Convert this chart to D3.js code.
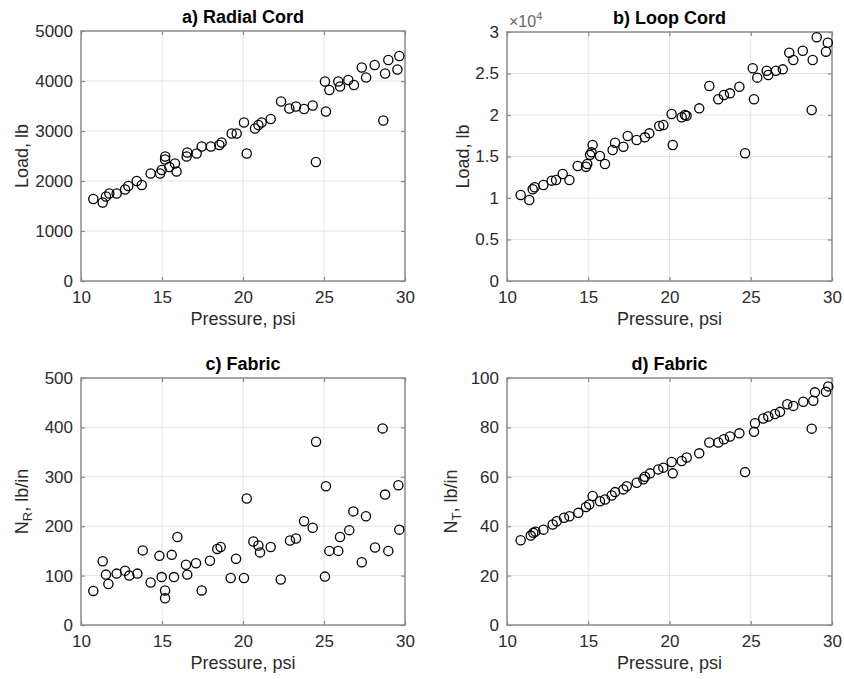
<!DOCTYPE html>
<html>
<head>
<meta charset="utf-8">
<script src="https://cdn.jsdelivr.net/npm/d3@7"></script>
<style>
  html, body { margin: 0; padding: 0; background: #fff; }
  svg { display: block; font-family: "Liberation Sans", Arial, Helvetica, sans-serif; }
</style>
</head>
<body>
<svg id="chart" width="844" height="679"></svg>
<script>
// ---------- data ----------
const xTicks = [10, 15, 20, 25, 30];

const radialPressure = [10.76, 11.34, 11.54, 11.75, 12.2, 12.72, 12.92, 13.44, 13.75, 14.3, 14.88, 14.98,
  15.19, 15.2, 15.45, 15.8, 15.9, 16.52, 16.56, 17.14, 17.45, 18.02, 18.54, 18.68, 19.3, 19.61, 20.06,
  20.23, 20.74, 20.95, 21.15, 21.71, 22.35, 22.86, 23.27, 23.77, 24.3, 24.5, 25.06, 25.12, 25.33, 25.88,
  25.99, 26.5, 26.85, 27.33, 27.6, 28.13, 28.66, 28.77, 28.97, 29.53, 29.65];
const radialLoad = [1640, 1570, 1690, 1750, 1750, 1830, 1900, 2000, 1920, 2150, 2150, 2220,
  2430, 2490, 2280, 2350, 2190, 2490, 2570, 2550, 2690, 2690, 2720, 2770, 2950, 2950, 3170,
  2550, 3050, 3120, 3170, 3240, 3590, 3450, 3490, 3440, 3510, 2380, 3990, 3390, 3820, 3990,
  3890, 4020, 3920, 4270, 4070, 4320, 3210, 4150, 4420, 4230, 4500];
const radialTicks = [0, 1000, 2000, 3000, 4000, 5000];

const loopPressure = [10.84, 11.37, 11.58, 11.7, 12.24, 12.75, 13.02, 13.43, 13.84, 14.35, 14.86, 14.94,
  15.11, 15.2, 15.27, 15.72, 16.03, 16.5, 16.65, 17.16, 17.43, 17.98, 18.49, 18.76, 19.37, 19.62, 20.13,
  20.2, 20.75, 20.95, 21.05, 21.83, 22.45, 23.0, 23.35, 23.72, 24.3, 24.65, 25.12, 25.2, 25.4, 25.98,
  26.08, 26.55, 26.97, 27.37, 27.62, 28.2, 28.75, 28.81, 29.06, 29.63, 29.74];
const loopLoad = [10360, 9760, 11050, 11300, 11570, 12090, 12170, 12890, 12170, 13860, 13770, 14100,
  15200, 15500, 16400, 15060, 14100, 15780, 16660, 16180, 17470, 16990, 17310, 17790, 18670, 18800, 20120,
  16390, 19720, 20000, 19900, 20800, 23490, 21890, 22410, 22610, 23410, 15390, 25630, 21890, 24500, 25340,
  24820, 25340, 25500, 27510, 26630, 27750, 20600, 26630, 29360, 27630, 28710];
const loopTicks = [0, 5000, 10000, 15000, 20000, 25000, 30000];
const loopTickLabels = ["0", "0.5", "1", "1.5", "2", "2.5", "3"];

const fabricRPressure = [10.76, 11.34, 11.54, 11.69, 12.2, 12.72, 12.98, 13.48, 13.81, 14.3, 14.84, 14.98,
  15.19, 15.19, 15.6, 15.74, 15.95, 16.48, 16.56, 17.1, 17.45, 17.96, 18.41, 18.62, 19.24, 19.57, 20.06,
  20.23, 20.64, 20.95, 21.05, 21.71, 22.33, 22.9, 23.27, 23.77, 24.3, 24.51, 25.06, 25.12, 25.33, 25.88,
  25.99, 26.56, 26.81, 27.33, 27.59, 28.15, 28.62, 28.77, 28.97, 29.59, 29.65];
const fabricNR = [69, 129, 102, 83, 104, 110, 100, 104, 151, 86, 140, 97,
  70, 54, 142, 97, 178, 122, 102, 125, 70, 130, 154, 158, 95, 134, 95,
  256, 169, 161, 147, 158, 92, 171, 175, 210, 197, 371, 98, 281, 150, 150,
  178, 192, 230, 127, 220, 157, 398, 264, 150, 283, 193];
const fabricRTicks = [0, 100, 200, 300, 400, 500];

const fabricTPressure = [10.84, 11.46, 11.62, 11.75, 12.24, 12.81, 13.06, 13.51, 13.84, 14.39, 14.86, 15.06,
  15.27, 15.72, 16.03, 16.44, 16.65, 17.16, 17.37, 17.98, 18.39, 18.49, 18.8, 19.31, 19.62, 20.13, 20.2,
  20.75, 21.06, 21.83, 22.45, 23.0, 23.35, 23.72, 24.3, 24.65, 25.2, 25.26, 25.77, 26.08, 26.49, 26.8,
  27.25, 27.62, 28.23, 28.75, 28.85, 28.95, 29.63, 29.77];
const fabricNT = [34.3, 36.2, 37.3, 37.8, 38.6, 40.7, 42.0, 43.4, 44.0, 45.4, 47.8, 48.8,
  52.2, 50.1, 50.8, 52.4, 53.8, 54.9, 56.2, 57.6, 59.0, 60.0, 61.4, 63.0, 63.7, 66.0, 61.4,
  66.4, 67.8, 69.5, 73.9, 73.9, 75.2, 76.3, 77.6, 61.9, 78.2, 81.7, 83.6, 84.4, 85.4, 86.3,
  89.4, 88.7, 90.4, 79.5, 90.8, 94.2, 94.4, 96.6];
const fabricTTicks = [0, 20, 40, 60, 80, 100];

// ---------- drawing ----------
const svg = d3.select("#chart");
const FONT_TICK = 17, FONT_LABEL = 18;
const AXIS_COLOR = "#8a8a8a", TEXT_COLOR = "#2b2b2b", GRID_COLOR = "#e4e4e4";

const panels = [
  { title: "a) Radial Cord", px: radialPressure, py: radialLoad, yMax: 5000, yTicks: radialTicks,
    yFmt: d => String(d), box: [81, 405, 31, 281], ylabel: ["Load, lb"], ylx: 22 },
  { title: "b) Loop Cord", px: loopPressure, py: loopLoad, yMax: 30000, yTicks: loopTicks,
    yFmt: (d, i) => loopTickLabels[i], box: [507, 832, 32, 281], ylabel: ["Load, lb"], ylx: 463, exp: true },
  { title: "c) Fabric", px: fabricRPressure, py: fabricNR, yMax: 500, yTicks: fabricRTicks,
    yFmt: d => String(d), box: [81, 405, 378, 625], ylabel: ["N", "R", ", lb/in"], ylx: 22 },
  { title: "d) Fabric", px: fabricTPressure, py: fabricNT, yMax: 100, yTicks: fabricTTicks,
    yFmt: d => String(d), box: [507, 832, 378, 625], ylabel: ["N", "T", ", lb/in"], ylx: 451 }
];

panels.forEach(p => {
  const [x0, x1, y0, y1] = p.box;
  const x = d3.scaleLinear().domain([10, 30]).range([x0, x1]);
  const y = d3.scaleLinear().domain([0, p.yMax]).range([y1, y0]);
  const g = svg.append("g");

  // grid
  g.append("g").selectAll("line").data(xTicks.slice(1, -1)).join("line")
    .attr("x1", d => x(d)).attr("x2", d => x(d)).attr("y1", y0).attr("y2", y1)
    .attr("stroke", GRID_COLOR).attr("stroke-width", 1);
  g.append("g").selectAll("line").data(p.yTicks.slice(1, -1)).join("line")
    .attr("y1", d => y(d)).attr("y2", d => y(d)).attr("x1", x0).attr("x2", x1)
    .attr("stroke", GRID_COLOR).attr("stroke-width", 1);

  // axes
  const styleAxis = sel => {
    sel.select(".domain").remove();
    sel.selectAll(".tick line").attr("stroke", AXIS_COLOR).attr("stroke-width", 1.2);
    sel.selectAll(".tick text").attr("fill", TEXT_COLOR).style("font-size", FONT_TICK + "px")
      .style("font-family", "'Liberation Sans', Arial, sans-serif");
  };
  g.append("g").attr("transform", `translate(0,${y1})`)
    .call(d3.axisBottom(x).tickValues(xTicks).tickSize(-4).tickPadding(10).tickFormat(d3.format("d")))
    .call(styleAxis);
  g.append("g").attr("transform", `translate(0,${y0})`)
    .call(d3.axisTop(x).tickValues(xTicks).tickSize(-4).tickFormat(""))
    .call(styleAxis);
  g.append("g").attr("transform", `translate(${x0},0)`)
    .call(d3.axisLeft(y).tickValues(p.yTicks).tickSize(-4).tickPadding(8).tickFormat(p.yFmt))
    .call(styleAxis);
  g.append("g").attr("transform", `translate(${x1},0)`)
    .call(d3.axisRight(y).tickValues(p.yTicks).tickSize(-4).tickFormat(""))
    .call(styleAxis);

  // box
  g.append("rect").attr("x", x0).attr("y", y0).attr("width", x1 - x0).attr("height", y1 - y0)
    .attr("fill", "none").attr("stroke", AXIS_COLOR).attr("stroke-width", 1.5);

  // points
  g.append("g").selectAll("circle").data(p.px.map((v, i) => [v, p.py[i]])).join("circle")
    .attr("cx", d => x(d[0])).attr("cy", d => y(d[1])).attr("r", 4.6)
    .attr("fill", "none").attr("stroke", "#000").attr("stroke-width", 1.3);

  // title
  g.append("text").attr("x", (x0 + x1) / 2).attr("y", y0 - 8)
    .attr("text-anchor", "middle").attr("font-weight", "bold").attr("font-size", FONT_LABEL)
    .attr("fill", "#000").text(p.title);

  // x label
  g.append("text").attr("x", (x0 + x1) / 2).attr("y", y1 + 44)
    .attr("text-anchor", "middle").attr("font-size", FONT_LABEL).attr("fill", TEXT_COLOR)
    .text("Pressure, psi");

  // y label
  const yl = g.append("text")
    .attr("transform", `translate(${p.ylx + 6},${(y0 + y1) / 2}) rotate(-90)`)
    .attr("text-anchor", "middle").attr("font-size", FONT_LABEL).attr("fill", TEXT_COLOR);
  if (p.ylabel.length === 1) {
    yl.text(p.ylabel[0]);
  } else {
    yl.append("tspan").text(p.ylabel[0]);
    yl.append("tspan").attr("font-size", 13).attr("dy", 4).text(p.ylabel[1]);
    yl.append("tspan").attr("dy", -4).text(p.ylabel[2]);
  }

  // exponent
  if (p.exp) {
    const t = g.append("text").attr("x", x0 + 2).attr("y", y0 - 5)
      .attr("font-size", 16).attr("fill", "#666");
    t.append("tspan").text("\u00d710");
    t.append("tspan").attr("font-size", 11).attr("dy", -7).text("4");
  }
});
</script>
</body>
</html>
